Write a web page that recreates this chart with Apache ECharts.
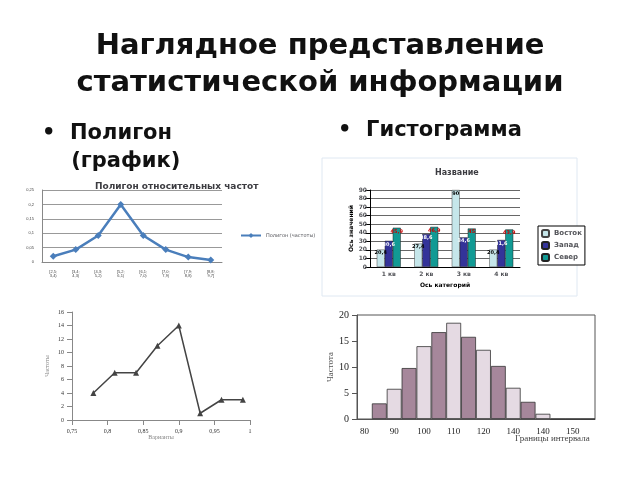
<!DOCTYPE html><html><head><meta charset="utf-8"><script src="https://cdn.jsdelivr.net/npm/echarts@6/dist/echarts.min.js"></script>
<style>html,body{margin:0;background:#fff}#c{width:640px;height:480px}</style></head><body><div id="c"></div><script>
const polyCats=['[2,5;\n3,4)','[3,4;\n4,3)','[4,3;\n5,2)','[5,2;\n6,1)','[6,1;\n7,0)','[7,0;\n7,9)','[7,9;\n8,8)','[8,8;\n9,7]'];
const polyVals=[0.02,0.043,0.092,0.2,0.092,0.043,0.017,0.007];
const barCats=['1 кв','2 кв','3 кв','4 кв'];
const east=[20.4,27.4,90,20.4], west=[30.6,38.6,34.6,31.6], north=[45.9,46.9,45,43.9];
const lineX=[0.78,0.81,0.84,0.87,0.9,0.93,0.96,0.99];
const lineY=[4,7,7,11,14,1,3,3];
const histCats=['80','','90','','100','','110','','120','','140','','140','','150',''];
const histVals=[null,3,5.8,9.8,14,16.7,18.5,15.8,13.3,10.2,6,3.3,1,0,0,0];
const F='DejaVu Sans';
const ch=echarts.init(document.getElementById('c'));
const lab=(c,pos)=>({show:true,position:pos||'insideTop',distance:1,fontSize:5,fontWeight:'bold',color:c,fontFamily:F,formatter:p=>String(p.value).replace('.',',')});
ch.setOption({animation:false,
graphic:[
{type:'text',left:'center',top:28,style:{text:'Наглядное представление\nстатистической информации',font:'bold 29px DejaVu Sans',fill:'#111',textAlign:'center',lineHeight:37}},
{type:'text',left:42,top:120,style:{text:'•  Полигон\n    (график)',font:'bold 21px DejaVu Sans',fill:'#111',lineHeight:28}},
{type:'text',left:338,top:120,style:{text:'•  Гистограмма',font:'bold 21px DejaVu Sans',fill:'#111'}},
{type:'rect',shape:{x:322,y:158,width:255,height:138},style:{fill:'none',stroke:'#dfe8f2'}},
{type:'text',left:515,top:434,style:{text:'Границы интервала',font:'9px Liberation Serif',fill:'#444'}}
],
title:[{text:'Полигон относительных частот',left:90,top:177,textStyle:{fontSize:9,fontFamily:F,fontWeight:'bold'}},
{text:'Название',left:430,top:164,textStyle:{fontSize:8,fontFamily:F,fontWeight:'bold'}}],
legend:[{gridIndex:0,data:['Полигон (частоты)'],left:235,top:228,textStyle:{fontSize:5,fontFamily:F},itemWidth:20,itemHeight:6},
{data:['Восток','Запад','Север'],orient:'vertical',left:538,top:226,itemWidth:7,itemHeight:7,itemGap:3,textStyle:{fontSize:7,fontFamily:F,fontWeight:'bold'},backgroundColor:'#fff',borderColor:'#000',borderWidth:1,padding:3}],
grid:[{left:42,top:190,width:180,height:72},{left:370,top:190,width:150,height:77},{left:72,top:312,width:178,height:108},{left:357,top:315,width:238,height:104,show:true,borderColor:'#555',borderWidth:1}],
xAxis:[
{gridIndex:0,type:'category',data:polyCats,axisLabel:{fontSize:4,color:'#444',interval:0},axisTick:{show:false},axisLine:{lineStyle:{color:'#888'}}},
{gridIndex:1,type:'category',data:barCats,name:'Ось категорий',nameLocation:'middle',nameGap:15,nameTextStyle:{fontSize:6,fontFamily:F,fontWeight:'bold'},axisLabel:{fontSize:6,fontWeight:'bold',fontFamily:F,margin:4},axisTick:{show:false},axisLine:{lineStyle:{color:'#000'}}},
{gridIndex:2,type:'value',min:0.75,max:1,interval:0.05,name:'Варианты',nameLocation:'middle',nameGap:14,nameTextStyle:{fontSize:6,fontFamily:'Liberation Serif'},axisLabel:{fontSize:6,fontFamily:'Liberation Serif',color:'#333',formatter:v=>String(+v.toFixed(2)).replace('.',',')},splitLine:{show:false},axisLine:{lineStyle:{color:'#888'}},axisTick:{lineStyle:{color:'#888'}}},
{gridIndex:3,type:'category',data:histCats,boundaryGap:true,axisLabel:{interval:0,fontSize:9,fontFamily:'Liberation Serif',color:'#222'},axisTick:{show:false},axisLine:{lineStyle:{color:'#555'}}}
],
yAxis:[
{gridIndex:0,type:'value',min:0,max:0.25,interval:0.05,axisLabel:{fontSize:4,color:'#444',formatter:v=>String(v).replace('.',',')},splitLine:{lineStyle:{color:'#999'}},axisLine:{show:true,lineStyle:{color:'#888'}}},
{gridIndex:1,type:'value',min:0,max:90,interval:10,name:'Ось значений',nameLocation:'middle',nameGap:16,nameTextStyle:{fontSize:6,fontFamily:F,fontWeight:'bold'},axisLabel:{fontSize:6,fontWeight:'bold',fontFamily:F,margin:3},splitLine:{lineStyle:{color:'#000',width:0.6}},axisLine:{show:true,lineStyle:{color:'#000'}},axisTick:{show:true}},
{gridIndex:2,type:'value',min:0,max:16,interval:2,name:'Частоты',nameLocation:'middle',nameGap:22,nameTextStyle:{fontSize:6,fontFamily:'Liberation Serif'},axisLabel:{fontSize:6,fontFamily:'Liberation Serif',color:'#333'},splitLine:{show:false},axisLine:{show:true,lineStyle:{color:'#888'}},axisTick:{show:true}},
{gridIndex:3,type:'value',min:0,max:20,interval:5,name:'Частота',nameLocation:'middle',nameGap:22,nameTextStyle:{fontSize:9,fontFamily:'Liberation Serif'},axisLabel:{fontSize:10,fontFamily:'Liberation Serif',color:'#222'},splitLine:{show:false},axisLine:{show:true,lineStyle:{color:'#555'}},axisTick:{show:true}}
],
series:[
{name:'Полигон (частоты)',type:'line',xAxisIndex:0,yAxisIndex:0,data:polyVals,symbol:'diamond',symbolSize:7,itemStyle:{color:'#4a7ebb'},lineStyle:{width:2.5,color:'#4a7ebb'}},
{name:'Восток',type:'bar',xAxisIndex:1,yAxisIndex:1,data:east,barWidth:8,barGap:'0%',itemStyle:{color:'#c5e6ea',borderColor:'#444',borderWidth:0.5},label:lab('#000')},
{name:'Запад',type:'bar',xAxisIndex:1,yAxisIndex:1,data:west,barWidth:8,itemStyle:{color:'#333399',borderColor:'#222',borderWidth:0.5},label:lab('#fff')},
{name:'Север',type:'bar',xAxisIndex:1,yAxisIndex:1,data:north,barWidth:8,itemStyle:{color:'#129a94',borderColor:'#222',borderWidth:0.5},label:lab('#c00')},
{type:'line',xAxisIndex:2,yAxisIndex:2,data:lineX.map((x,i)=>[x,lineY[i]]),symbol:'triangle',symbolSize:6,itemStyle:{color:'#444'},lineStyle:{color:'#444',width:1.5}},
{type:'bar',xAxisIndex:3,yAxisIndex:3,data:histVals,barCategoryGap:'0%',itemStyle:{color:p=>p.dataIndex%2?'#a6879b':'#e5dae3',borderColor:'#333',borderWidth:0.8}}
]});
</script></body></html>
